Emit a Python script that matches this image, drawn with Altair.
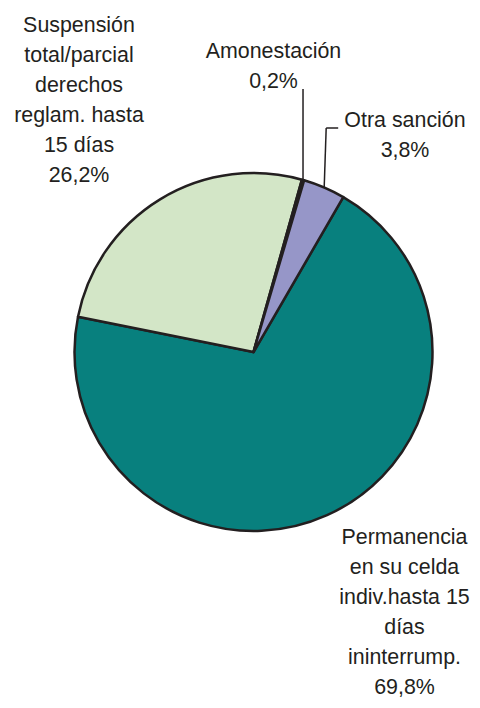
import math
import altair as alt
import pandas as pd

# ---- data ----
categories = ["Permanencia", "Suspensión", "Amonestación", "Otra sanción"]
values = [69.8, 26.2, 0.2, 3.8]
label_lines = [
    ["Permanencia", "en su celda", "indiv.hasta 15", "días", "ininterrump.", "69,8%"],
    ["Suspensión", "total/parcial", "derechos", "reglam. hasta", "15 días", "26,2%"],
    ["Amonestación", "0,2%"],
    ["Otra sanción", "3,8%"],
]
colors = ["#08807e", "#d3e6c7", "#231f20", "#9696c8"]

# ---- layout (chart pixel space) ----
W, H = 464, 692
CX, CY, R = 245.5, 344.0, 179.0
START_DEG = 30.1
label_pos = [(396.5, 536), (71, 23.5), (265.5, 50), (397, 118.5)]
FONT = "Liberation Sans, Arial"
FS = 21.4
LH = 30.0

df = pd.DataFrame({"cat": categories, "value": values, "order": range(len(values))})

start = math.radians(START_DEG)
pie = alt.Chart(df).mark_arc(
    radius=R, stroke="#231f20", strokeWidth=2.5, strokeJoin="round"
).encode(
    theta=alt.Theta("value:Q", stack=True, scale=alt.Scale(range=[start, start + 2 * math.pi])),
    order=alt.Order("order:Q"),
    color=alt.Color("cat:N", scale=alt.Scale(domain=categories, range=colors), legend=None),
    x=alt.value(CX),
    y=alt.value(CY),
)

# leader lines derived from the slice angles
total = sum(values)
cum = 0.0
mids = []
for v in values:
    a0 = START_DEG + cum / total * 360
    a1 = START_DEG + (cum + v) / total * 360
    mids.append(math.radians((a0 + a1) / 2))
    cum += v

def edge(i):
    return CX + R * math.sin(mids[i]), CY - R * math.cos(mids[i])

ax, ay = edge(2)
ox, oy = edge(3)
segs = pd.DataFrame([
    {"x": ax, "y": ay, "x2": ax, "y2": 81},
    {"x": ox, "y": oy, "x2": ox + 2, "y2": 120},
    {"x": ox + 2, "y": 120, "x2": ox + 14, "y2": 120},
])
leaders = alt.Chart(segs).mark_rule(color="#231f20", strokeWidth=1.5).encode(
    x=alt.X("x:Q", scale=None, axis=None),
    y=alt.Y("y:Q", scale=None, axis=None),
    x2="x2:Q",
    y2="y2:Q",
)

lab = pd.DataFrame({
    "text": ["\n".join(l) for l in label_lines],
    "x": [p[0] for p in label_pos],
    "y": [p[1] for p in label_pos],
})
labels = alt.Chart(lab).mark_text(
    font=FONT, fontSize=FS, lineHeight=LH, lineBreak="\n", align="center",
    baseline="alphabetic", color="#231f20"
).encode(
    x=alt.X("x:Q", scale=None, axis=None),
    y=alt.Y("y:Q", scale=None, axis=None),
    text="text:N",
)

chart = alt.layer(pie, leaders, labels).properties(
    width=W, height=H, autosize="none", padding=0
).configure_view(stroke=None)

chart.save("out.html", embed_options={"renderer": "svg", "actions": False})
